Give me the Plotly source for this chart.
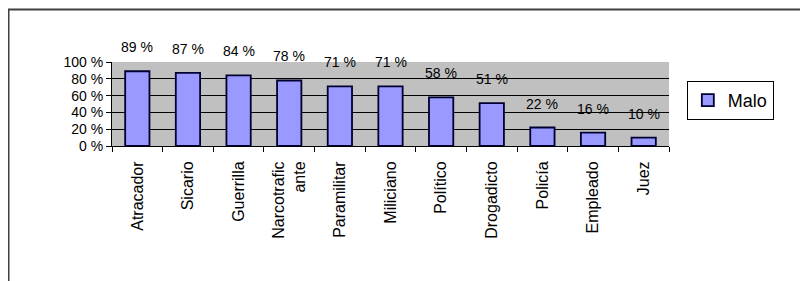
import plotly.graph_objects as go

categories = ["Atracador", "Sicario", "Guerrilla", "Narcotrafic<br>ante", "Paramilitar",
              "Miliciano", "Político", "Drogadicto", "Policía", "Empleado", "Juez"]
malo = [89, 87, 84, 78, 71, 71, 58, 51, 22, 16, 10]
y_ticks = [0, 20, 40, 60, 80, 100]
y_tick_labels = [f"{v} %" for v in y_ticks]

FONT = "Arial, Liberation Sans, sans-serif"

fig = go.Figure()
fig.add_trace(go.Bar(
    x=categories, y=malo, name="Malo",
    marker=dict(color="#9999FF", line=dict(color="#000030", width=1.8)),
))

for c, v in zip(categories, malo):
    fig.add_annotation(x=c, y=v, text=f"{v} %", showarrow=False, yshift=24,
                       font=dict(family=FONT, size=14, color="black"))

# outer chart-area frame
fig.add_shape(type="rect", xref="paper", yref="paper",
              x0=-0.1858, x1=1.26, y0=-1.7, y1=1.625,
              line=dict(color="#404040", width=2), fillcolor="rgba(0,0,0,0)", layer="below")

fig.update_layout(
    width=800, height=273,
    margin=dict(l=104, r=139, t=54, b=135, autoexpand=False),
    paper_bgcolor="white", plot_bgcolor="#C0C0C0",
    font=dict(family=FONT, size=13, color="black"),
    bargap=0.52,
    showlegend=True,
    legend=dict(x=1.032, y=0.774, xanchor="left", yanchor="top",
                bgcolor="white", bordercolor="black", borderwidth=1,
                font=dict(family=FONT, size=18, color="black")),
    xaxis=dict(showline=True, linecolor="black", linewidth=1, ticks="outside",
               tickson="boundaries", ticklen=5, tickcolor="black", tickangle=-90,
               ticklabelstandoff=8,
               showgrid=False, tickfont=dict(family=FONT, size=16)),
    yaxis=dict(range=[0, 100], tickvals=y_ticks, ticktext=y_tick_labels,
               showline=True, linecolor="black", linewidth=1, ticks="outside",
               ticklen=5, tickcolor="black", showgrid=True, gridcolor="black",
               gridwidth=1, zeroline=False, tickfont=dict(family=FONT, size=14)),
)

fig.write_html("out.html")
